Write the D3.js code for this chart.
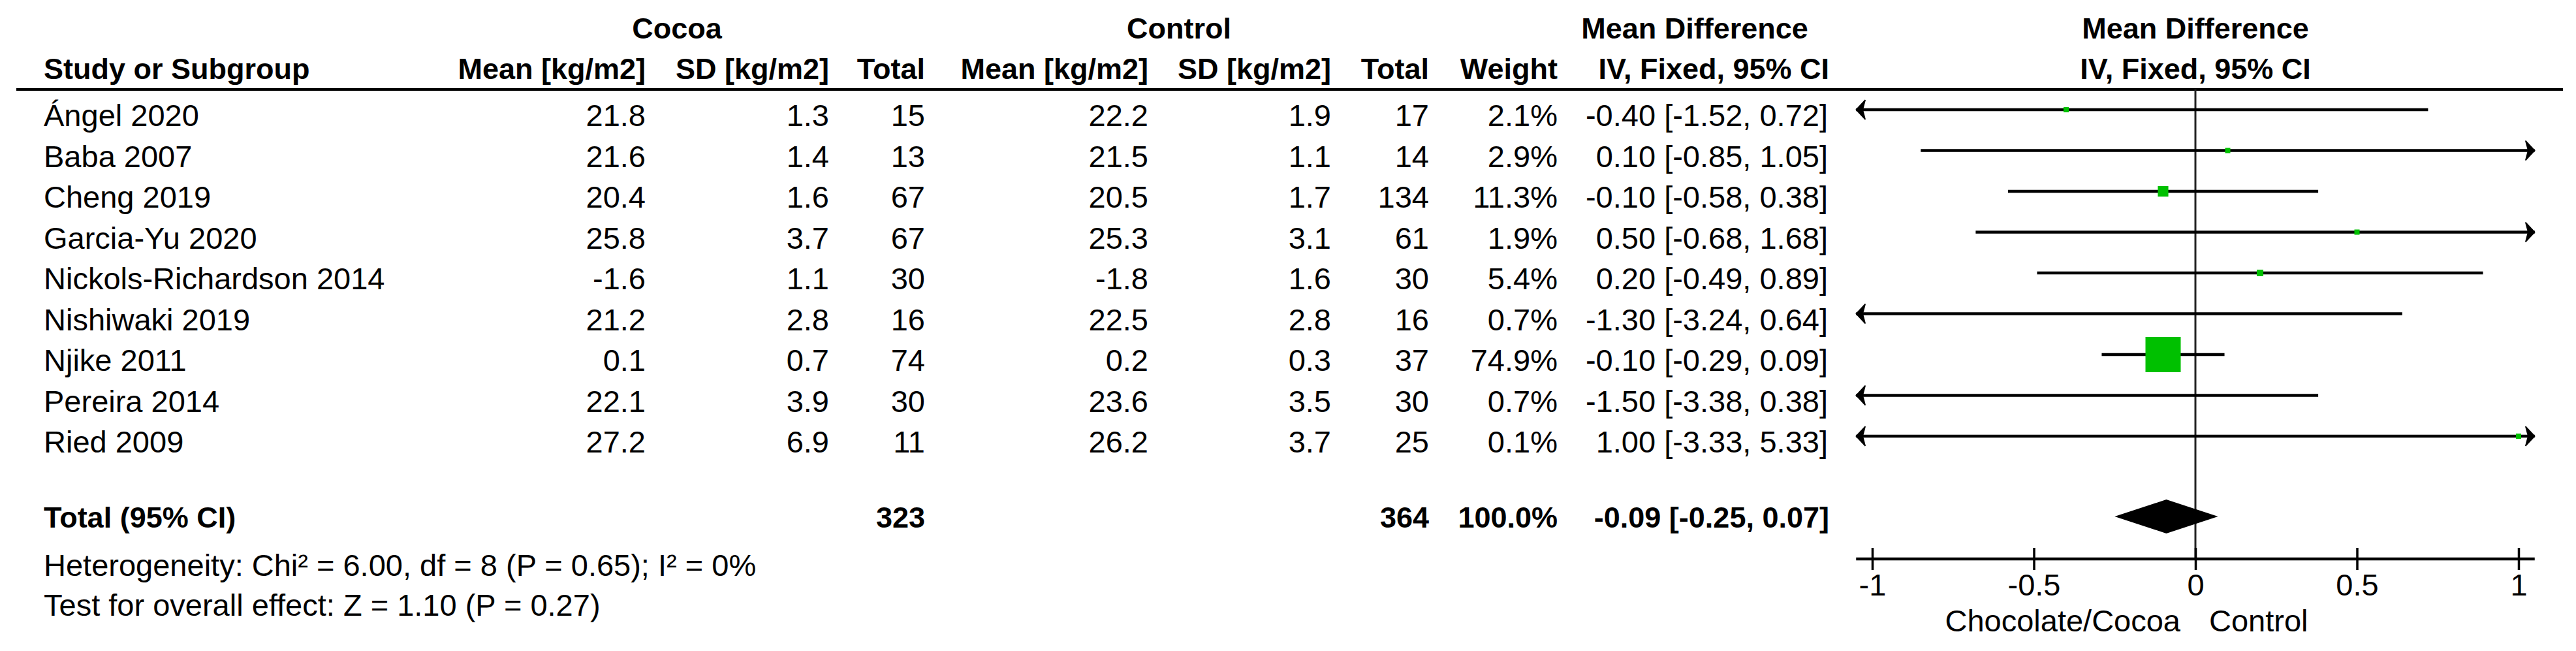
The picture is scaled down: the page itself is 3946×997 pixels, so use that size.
<!DOCTYPE html>
<html>
<head>
<meta charset="utf-8">
<script src="https://cdn.jsdelivr.net/npm/d3@7"></script>
<style>
  html, body { margin: 0; padding: 0; background: #fff; }
  svg { display: block; }
  text { font-family: "Liberation Sans", Arial, sans-serif; fill: #000; }
  .b { font-weight: bold; }
</style>
</head>
<body>
<svg id="chart" width="3946" height="997"></svg>
<script>
// ---------- data ----------
const studies = ["Ángel 2020", "Baba 2007", "Cheng 2019", "Garcia-Yu 2020", "Nickols-Richardson 2014",
                 "Nishiwaki 2019", "Njike 2011", "Pereira 2014", "Ried 2009"];
const cocoaMean = [21.8, 21.6, 20.4, 25.8, -1.6, 21.2, 0.1, 22.1, 27.2];
const cocoaSD = [1.3, 1.4, 1.6, 3.7, 1.1, 2.8, 0.7, 3.9, 6.9];
const cocoaN = [15, 13, 67, 67, 30, 16, 74, 30, 11];
const controlMean = [22.2, 21.5, 20.5, 25.3, -1.8, 22.5, 0.2, 23.6, 26.2];
const controlSD = [1.9, 1.1, 1.7, 3.1, 1.6, 2.8, 0.3, 3.5, 3.7];
const controlN = [17, 14, 134, 61, 30, 16, 37, 30, 25];
const weights = [2.1, 2.9, 11.3, 1.9, 5.4, 0.7, 74.9, 0.7, 0.1];
const meanDiff = [-0.40, 0.10, -0.10, 0.50, 0.20, -1.30, -0.10, -1.50, 1.00];
const ciLow = [-1.52, -0.85, -0.58, -0.68, -0.49, -3.24, -0.29, -3.38, -3.33];
const ciHigh = [0.72, 1.05, 0.38, 1.68, 0.89, 0.64, 0.09, 0.38, 5.33];
const totalCocoaN = 323;
const totalControlN = 364;
const totalWeight = 100.0;
const totalMD = -0.09, totalLow = -0.25, totalHigh = 0.07;
const heterogeneityText = "Heterogeneity: Chi² = 6.00, df = 8 (P = 0.65); I² = 0%";
const overallText = "Test for overall effect: Z = 1.10 (P = 0.27)";
const tickValues = [-1, -0.5, 0, 0.5, 1];
const tickLabels = ["-1", "-0.5", "0", "0.5", "1"];
const favoursLeft = "Chocolate/Cocoa";
const favoursRight = "Control";

// ---------- layout ----------
const svg = d3.select("#chart");
svg.append("rect").attr("width", 3946).attr("height", 997).attr("fill", "#fff");

const FS = 47, FSB = 45;
const rows = d3.scalePoint().domain(studies).range([193, 693]); // text baselines
const lineOffset = -25;
const x = d3.scaleLinear().domain([-1, 1]).range([2868, 3858]);
const clipLo = -1.05, clipHi = 1.05;
const boxSize = d3.scalePow().exponent(0.64).domain([0, 74.9]).range([0, 54]);

const f2 = v => v.toFixed(2);
const f1 = v => v.toFixed(1);
const ciStr = (m, l, h) => `${f2(m)} [${f2(l)}, ${f2(h)}]`;

function txt(g, s, xx, yy, anchor, bold, size) {
  return g.append("text").attr("x", xx).attr("y", yy)
    .attr("text-anchor", anchor)
    .attr("font-size", size || (bold ? FSB : FS))
    .attr("class", bold ? "b" : null)
    .text(s);
}

// headers
const H = svg.append("g");
txt(H, "Cocoa", 1037, 59, "middle", true);
txt(H, "Control", 1806, 59, "middle", true);
txt(H, "Mean Difference", 2596, 59, "middle", true);
txt(H, "Mean Difference", x(0), 59, "middle", true);
txt(H, "Study or Subgroup", 67, 121, "start", true);
txt(H, "Mean [kg/m2]", 989, 121, "end", true);
txt(H, "SD [kg/m2]", 1270, 121, "end", true);
txt(H, "Total", 1417, 121, "end", true);
txt(H, "Mean [kg/m2]", 1759, 121, "end", true);
txt(H, "SD [kg/m2]", 2039, 121, "end", true);
txt(H, "Total", 2189, 121, "end", true);
txt(H, "Weight", 2386, 121, "end", true);
txt(H, "IV, Fixed, 95% CI", 2802, 121, "end", true);
txt(H, "IV, Fixed, 95% CI", x(0), 121, "middle", true);

H.append("line").attr("x1", 25).attr("x2", 3926).attr("y1", 137).attr("y2", 137)
  .attr("stroke", "#000").attr("stroke-width", 4);

// zero line
svg.append("line").attr("x1", x(0)).attr("x2", x(0)).attr("y1", 137).attr("y2", 856)
  .attr("stroke", "#222").attr("stroke-width", 3);

// study rows
const R = svg.append("g");
studies.forEach((s, i) => {
  const y = rows(s);
  txt(R, s, 67, y, "start", false);
  txt(R, f1(cocoaMean[i]), 989, y, "end", false);
  txt(R, f1(cocoaSD[i]), 1270, y, "end", false);
  txt(R, String(cocoaN[i]), 1417, y, "end", false);
  txt(R, f1(controlMean[i]), 1759, y, "end", false);
  txt(R, f1(controlSD[i]), 2039, y, "end", false);
  txt(R, String(controlN[i]), 2189, y, "end", false);
  txt(R, f1(weights[i]) + "%", 2386, y, "end", false);
  txt(R, ciStr(meanDiff[i], ciLow[i], ciHigh[i]), 2800, y, "end", false);

  const ly = y + lineOffset;
  const lo = Math.max(ciLow[i], clipLo), hi = Math.min(ciHigh[i], clipHi);
  R.append("line").attr("x1", x(lo)).attr("x2", x(hi)).attr("y1", ly).attr("y2", ly)
    .attr("stroke", "#000").attr("stroke-width", 4.5);
  if (ciLow[i] <= clipLo + 1e-9) {
    const tx = x(clipLo);
    R.append("path").attr("d", `M${tx},${ly} L${tx + 14},${ly - 15} L${tx + 10},${ly} L${tx + 14},${ly + 15} Z`)
      .attr("fill", "#000").attr("stroke", "#000").attr("stroke-width", 1.5);
  }
  if (ciHigh[i] >= clipHi - 1e-9) {
    const tx = x(clipHi);
    R.append("path").attr("d", `M${tx},${ly} L${tx - 14},${ly - 15} L${tx - 10},${ly} L${tx - 14},${ly + 15} Z`)
      .attr("fill", "#000").attr("stroke", "#000").attr("stroke-width", 1.5);
  }
  if (meanDiff[i] >= clipLo && meanDiff[i] <= clipHi) {
    const sz = Math.max(8, boxSize(weights[i]));
    R.append("rect").attr("x", x(meanDiff[i]) - sz / 2).attr("y", ly - sz / 2)
      .attr("width", sz).attr("height", sz).attr("fill", "#00c000");
  }
});

// total row
const T = svg.append("g");
const ty = 808;
txt(T, "Total (95% CI)", 67, ty, "start", true);
txt(T, String(totalCocoaN), 1417, ty, "end", true);
txt(T, String(totalControlN), 2189, ty, "end", true);
txt(T, f1(totalWeight) + "%", 2386, ty, "end", true);
txt(T, ciStr(totalMD, totalLow, totalHigh), 2802, ty, "end", true);
const dy = 791;
T.append("path")
  .attr("d", `M${x(totalLow)},${dy} L${x(totalMD)},${dy - 26} L${x(totalHigh)},${dy} L${x(totalMD)},${dy + 26} Z`)
  .attr("fill", "#000");

// footer
txt(svg, heterogeneityText, 67, 882, "start", false);
txt(svg, overallText, 67, 943, "start", false);

// axis
const axisY = 856;
const A = svg.append("g").attr("transform", `translate(0,${axisY})`);
A.append("line").attr("x1", x(clipLo)).attr("x2", x(clipHi)).attr("y1", 0).attr("y2", 0)
  .attr("stroke", "#000").attr("stroke-width", 4.5);
const axis = d3.axisBottom(x).tickValues(tickValues)
  .tickFormat((d, i) => tickLabels[i]).tickSize(17).tickSizeOuter(0);
const ag = A.append("g").call(axis);
ag.select(".domain").remove();
ag.selectAll(".tick line").attr("y1", -17).attr("y2", 17).attr("stroke", "#000").attr("stroke-width", 3.5);
ag.selectAll(".tick text").attr("y", 56).attr("dy", null)
  .attr("font-size", FS).attr("font-family", '"Liberation Sans", Arial, sans-serif').attr("fill", "#000");

// favours labels
txt(svg, favoursLeft, x(0) - 23, 967, "end", false);
txt(svg, favoursRight, x(0) + 21, 967, "start", false);
</script>
</body>
</html>
